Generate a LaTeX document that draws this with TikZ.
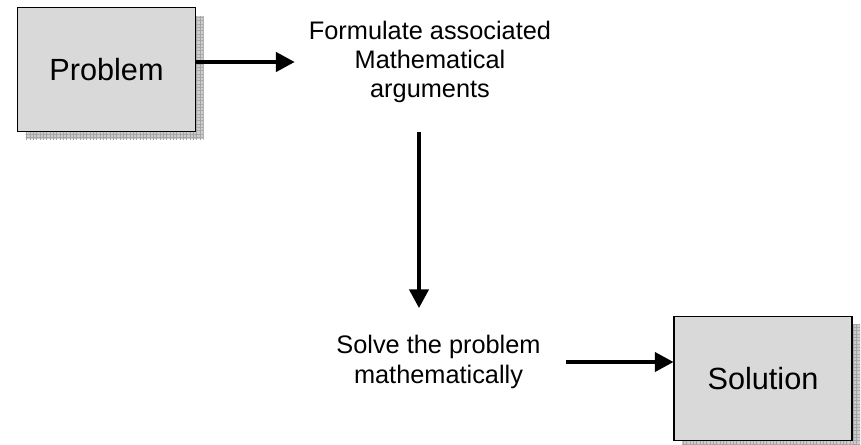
\documentclass[tikz,border=0pt]{standalone}
\usepackage{fontspec}
\setmainfont{Liberation Sans}
\usetikzlibrary{positioning, arrows.meta, shadows, patterns.meta}
\definecolor{boxfill}{RGB}{217,217,217}
\definecolor{shadowfill}{RGB}{204,204,204}
\definecolor{shadowgrid}{RGB}{165,165,165}
\tikzset{
  block/.style={
    rectangle, draw=black, line width=0.8pt, fill=boxfill,
    minimum width=133.5pt, minimum height=92.5pt,
    font=\fontsize{23}{27}\selectfont,
    drop shadow={shadow xshift=6pt, shadow yshift=-6pt, fill=shadowfill, opacity=1},
    drop shadow={shadow xshift=6pt, shadow yshift=-6pt, opacity=1,
      pattern={Hatch[distance=2.5pt, angle=0, line width=0.4pt]}, pattern color=shadowgrid}
  },
  stage/.style={align=center, font=\fontsize{19}{22}\selectfont, inner xsep=10.5pt},
  flow/.style={-{Triangle[length=14pt, width=14.5pt]}, line width=2.4pt},
}
\begin{document}
\begin{tikzpicture}[x=0.75pt, y=-0.75pt]
  \useasboundingbox (0,0) rectangle (861,444);
  \node[block] (problem) at (106.5,69.5) {Problem};
  \node[stage] (formulate) at (430,62) {Formulate associated\\Mathematical\\arguments};
  \node[stage] (solve) at (438.5,362) {Solve the problem\\mathematically};
  \node[block] (solution) at (763,378.5) {Solution};
  \coordinate (down start) at (419,132);
  \coordinate (down end) at (419,308);

  \draw[flow] (formulate.west -| problem.east) -- (formulate.west);
  \draw[flow] (down start) -- (down end);
  \draw[flow, shorten <=8.25pt] (solve.east) -- (solve.east -| solution.west);
\end{tikzpicture}
\end{document}
